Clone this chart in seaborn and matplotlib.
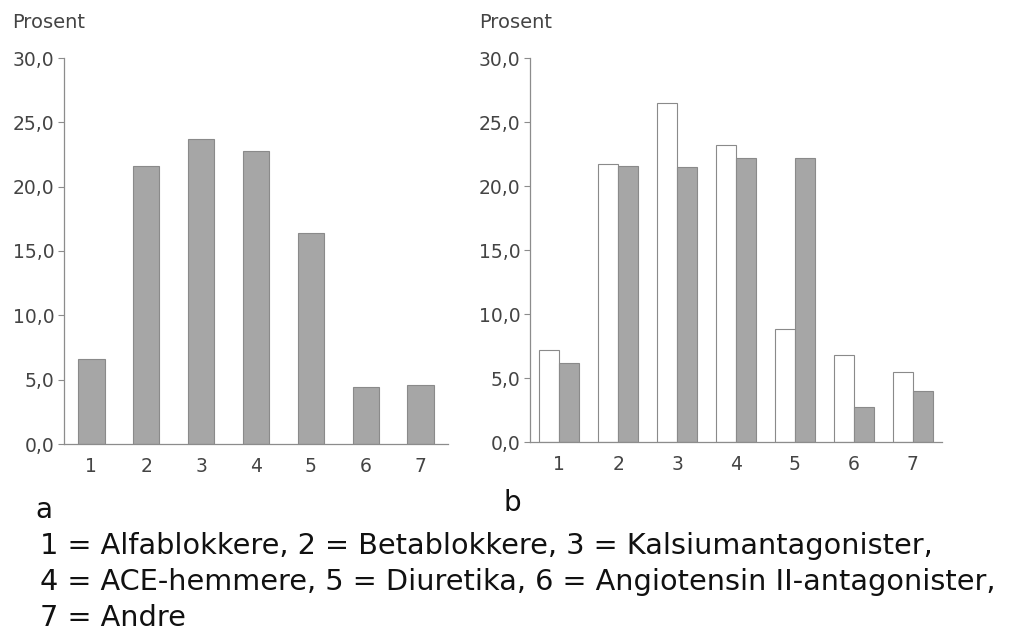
import matplotlib.pyplot as plt
import numpy as np
import pandas as pd
import seaborn as sns

# Category numbers (see caption for names)
categories = ["1", "2", "3", "4", "5", "6", "7"]

# Panel a: single series
values_a = [6.6, 21.6, 23.7, 22.8, 16.4, 4.4, 4.6]

# Panel b: two series (white and grey bars)
values_b_white = [7.2, 21.7, 26.5, 23.2, 8.8, 6.8, 5.5]
values_b_grey = [6.2, 21.6, 21.5, 22.2, 22.2, 2.7, 4.0]

yticks = [0, 5, 10, 15, 20, 25, 30]
ytick_labels = ["0,0", "5,0", "10,0", "15,0", "20,0", "25,0", "30,0"]

caption_lines = [
    "1 = Alfablokkere, 2 = Betablokkere, 3 = Kalsiumantagonister,",
    "4 = ACE-hemmere, 5 = Diuretika, 6 = Angiotensin II-antagonister,",
    "7 = Andre",
]

sns.set_style("white")
plt.rcParams["font.family"] = ["DejaVu Sans"]

GREY = "#a6a6a6"
EDGE = "#8a8a8a"
AXIS = "#8c8c8c"
TEXT = "#444444"

fig = plt.figure(figsize=(10.09, 6.33), dpi=100)
W, H = 1009, 633
ax_a = fig.add_axes([64 / W, (H - 444) / H, 384 / W, 386 / H])
ax_b = fig.add_axes([530 / W, (H - 442) / H, 412 / W, 384 / H])

# Panel a
df_a = pd.DataFrame({"kategori": categories, "prosent": values_a})
sns.barplot(
    data=df_a, x="kategori", y="prosent", color=GREY, width=0.48,
    edgecolor=EDGE, linewidth=0.8, saturation=1, ax=ax_a,
)

# Panel b
df_b = pd.DataFrame(
    {
        "kategori": categories * 2,
        "prosent": values_b_white + values_b_grey,
        "serie": ["hvit"] * 7 + ["grå"] * 7,
    }
)
sns.barplot(
    data=df_b, x="kategori", y="prosent", hue="serie",
    palette=["white", GREY], width=0.68, edgecolor=EDGE, linewidth=0.8,
    saturation=1, legend=False, ax=ax_b,
)

for ax in (ax_a, ax_b):
    ax.set_xlim(-0.5, 6.5)
    ax.set_ylim(0, 30)
    ax.set_yticks(yticks)
    ax.set_yticklabels(ytick_labels)
    ax.set_xticks(np.arange(-0.5, 7, 1), minor=True)
    ax.tick_params(axis="x", which="major", length=0, pad=9,
                   labelsize=13.5, labelcolor=TEXT)
    ax.tick_params(axis="x", which="minor", length=4, width=0.8,
                   color=AXIS, direction="out")
    ax.tick_params(axis="y", length=4, width=0.8, color=AXIS, pad=3,
                   labelsize=13.5, labelcolor=TEXT, left=True)
    ax.set_xlabel("")
    ax.set_ylabel("")
    for side in ("top", "right"):
        ax.spines[side].set_visible(False)
    for side in ("left", "bottom"):
        ax.spines[side].set_color(AXIS)
        ax.spines[side].set_linewidth(0.9)

fig.text(12 / W, 1 - 23 / H, "Prosent", fontsize=14, color=TEXT, va="center")
fig.text(479 / W, 1 - 23 / H, "Prosent", fontsize=14, color=TEXT, va="center")

fig.text(35 / W, 1 - 518 / H, "a", fontsize=20, color="#111111",
         va="baseline")
fig.text(503 / W, 1 - 511 / H, "b", fontsize=20, color="#111111",
         va="baseline")

for i, line in enumerate(caption_lines):
    fig.text(40 / W, 1 - (554 + 36 * i) / H, line, fontsize=20.7,
             color="#111111", va="baseline")

fig.savefig("out.png", dpi=100, facecolor="white")
